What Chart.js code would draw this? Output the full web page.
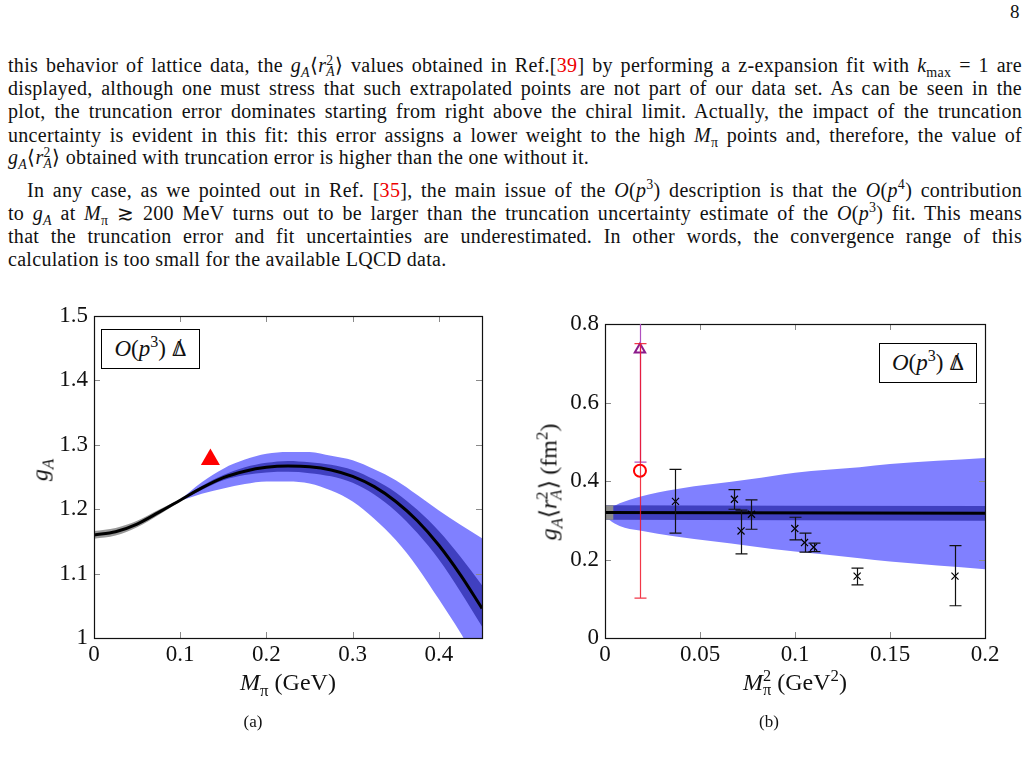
<!DOCTYPE html>
<html>
<head>
<meta charset="utf-8">
<script src="https://cdn.jsdelivr.net/npm/chart.js@4.4.1/dist/chart.umd.min.js"></script>
<style>
  body { margin: 0; background: #fff; }
  #page { position: relative; width: 1030px; height: 761px; overflow: hidden; font-family: "Liberation Serif", serif; color: #111; }
  .ln { position: absolute; left: 8px; width: 1014px; font-size: 20px; letter-spacing: 0.3px; line-height: 23px; text-align: justify; text-align-last: justify; white-space: normal; }
  .ln.last { text-align-last: left; }
  sub, sup { font-size: 0.7em; line-height: 0; }
  .ss { display: inline-block; vertical-align: -0.32em; font-size: 0.68em; line-height: 0.85; text-align: left; }
  .ss span { display: block; }
  .ref { color: #e00; }
  .abs { position: absolute; white-space: nowrap; }
  .lbl { font-size: 24px; }
  .rot { transform: translate(-50%, -50%) rotate(-90deg); }
  .box { position: absolute; border: 1px solid #000; background: #fff; font-size: 23px; text-align: center; line-height: 37px; z-index: 2; }
  .nd { position: relative; display: inline-block; }
  .nd span { position: absolute; left: 0.12em; top: -0.06em; font-size: 1.05em; }
  canvas { position: absolute; }
</style>
</head>
<body>
<div id="page">
  <div class="abs" style="left:1010px; top:1px; font-size:19px;">8</div>

  <div class="ln" style="top:54px;">this behavior of lattice data, the <i>g</i><sub><i>A</i></sub>⟨<i>r</i><span class="ss"><span>2</span><span><i>A</i></span></span>⟩ values obtained in Ref.[<span class="ref">39</span>] by performing a z-expansion fit with <i>k</i><sub>max</sub> = 1 are</div>
  <div class="ln" style="top:77px;">displayed, although one must stress that such extrapolated points are not part of our data set. As can be seen in the</div>
  <div class="ln" style="top:100px;">plot, the truncation error dominates starting from right above the chiral limit. Actually, the impact of the truncation</div>
  <div class="ln" style="top:124px;">uncertainty is evident in this fit: this error assigns a lower weight to the high <i>M</i><sub>π</sub> points and, therefore, the value of</div>
  <div class="ln last" style="top:146px;"><i>g</i><sub><i>A</i></sub>⟨<i>r</i><span class="ss"><span>2</span><span><i>A</i></span></span>⟩ obtained with truncation error is higher than the one without it.</div>

  <div class="ln" style="top:179px; left:27px; width:995px;">In any case, as we pointed out in Ref. [<span class="ref">35</span>], the main issue of the <i>O</i>(<i>p</i><sup>3</sup>) description is that the <i>O</i>(<i>p</i><sup>4</sup>) contribution</div>
  <div class="ln" style="top:202px;">to <i>g</i><sub><i>A</i></sub> at <i>M</i><sub>π</sub> ≳ 200 MeV turns out to be larger than the truncation uncertainty estimate of the <i>O</i>(<i>p</i><sup>3</sup>) fit. This means</div>
  <div class="ln" style="top:225px;">that the truncation error and fit uncertainties are underestimated. In other words, the convergence range of this</div>
  <div class="ln last" style="top:248px;">calculation is too small for the available LQCD data.</div>

  <canvas id="chartA" width="500" height="380" style="left:0px; top:296px;"></canvas>
  <canvas id="chartB" width="500" height="380" style="left:520px; top:296px;"></canvas>

  <div class="box" style="left:101px; top:329px; width:97px; height:38px;"><i>O</i>(<i>p</i><sup>3</sup>) <span class="nd">Δ<span>/</span></span></div>
  <div class="box" style="left:879px; top:343px; width:96px; height:38px;"><i>O</i>(<i>p</i><sup>3</sup>) <span class="nd">Δ<span>/</span></span></div>

  <div class="abs lbl rot" style="left:40px; top:470px;"><i>g</i><sub><i>A</i></sub></div>
  <div class="abs lbl" style="left:288px; top:669px; transform:translateX(-50%);"><i>M</i><sub>π</sub> (GeV)</div>
  <div class="abs lbl rot" style="left:549px; top:482px;"><i>g</i><sub><i>A</i></sub>⟨<i>r</i><span class="ss"><span>2</span><span><i>A</i></span></span>⟩ (fm<sup>2</sup>)</div>
  <div class="abs lbl" style="left:795px; top:669px; transform:translateX(-50%);"><i>M</i><span class="ss"><span>2</span><span>π</span></span> (GeV<sup>2</sup>)</div>

  <div class="abs" style="left:253px; top:712px; font-size:17px; transform:translateX(-50%);">(a)</div>
  <div class="abs" style="left:769px; top:712px; font-size:17px; transform:translateX(-50%);">(b)</div>
</div>

<script>
// ---- panel (a): g_A vs M_pi ----
const mpiA = [0, 0.025, 0.05, 0.075, 0.1, 0.125, 0.15, 0.175, 0.2, 0.225, 0.25, 0.275, 0.3, 0.325, 0.35, 0.375, 0.4, 0.425, 0.45];
const gaFit = [1.160, 1.165, 1.177, 1.195, 1.214, 1.233, 1.249, 1.259, 1.265, 1.267, 1.266, 1.261, 1.251, 1.235, 1.212, 1.182, 1.144, 1.098, 1.046];

// extrapolation region (grey)
const grayAX = [0, 0.025, 0.05, 0.075, 0.1];
const grayAHi = [1.166, 1.171, 1.182, 1.199, 1.216];
const grayALo = [1.154, 1.159, 1.172, 1.191, 1.212];

// error bands (fit = dark, fit + truncation = light)
const bandAX = [0.1, 0.125, 0.15, 0.175, 0.2, 0.225, 0.25, 0.275, 0.3, 0.325, 0.35, 0.375, 0.4, 0.425, 0.45];
const innerAHi = [1.2145, 1.236, 1.253, 1.265, 1.272, 1.275, 1.273, 1.269, 1.261, 1.246, 1.226, 1.199, 1.166, 1.126, 1.082];
const innerALo = [1.2135, 1.230, 1.245, 1.253, 1.257, 1.258, 1.256, 1.251, 1.241, 1.223, 1.197, 1.163, 1.122, 1.072, 1.018];
const outerAHi = [1.215, 1.242, 1.263, 1.277, 1.286, 1.289, 1.289, 1.283, 1.276, 1.262, 1.245, 1.222, 1.198, 1.176, 1.155];
const outerALo = [1.213, 1.224, 1.232, 1.239, 1.243, 1.243, 1.240, 1.229, 1.212, 1.185, 1.152, 1.110, 1.060, 1.008, 0.950];

// physical point
const physMpi = [0.135];
const physGA = [1.277];

const xTicksA = [0, 0.1, 0.2, 0.3, 0.4];
const yTicksA = [1, 1.1, 1.2, 1.3, 1.4, 1.5];

// ---- panel (b): g_A <r_A^2> vs M_pi^2 ----
const m2Lat = [0.0371, 0.0681, 0.0716, 0.0771, 0.0999, 0.105, 0.1098, 0.1327, 0.1842];
const rLat = [0.348, 0.3535, 0.2728, 0.3153, 0.2788, 0.2432, 0.2314, 0.1577, 0.1577];
const rLatLo = [0.267, 0.328, 0.2144, 0.2771, 0.250, 0.2187, 0.2202, 0.1356, 0.0822];
const rLatHi = [0.4298, 0.378, 0.326, 0.3517, 0.3077, 0.267, 0.2415, 0.178, 0.2355];

// z-expansion values of Ref.[39]
const m2Phys = [0.0184];
const rZexp = [0.426];
const rZexpLo = [0.1017];
const rZexpHi = [0.750];
const rZexpT = [0.735];
const rZexpTLo = [0.448];
const rZexpTHi = [1.02];

const lineBX = [0, 0.2];
const lineBY = [0.3195, 0.318];
const darkBHi = [0.338, 0.336];
const darkBLo = [0.301, 0.299];
const grayBX = [0, 0.0045];
const grayBHi = [0.338, 0.338];
const grayBLo = [0.301, 0.301];

const lightBX = [0, 0.0005, 0.0024, 0.0077, 0.0183, 0.0372, 0.0762, 0.1, 0.134, 0.15, 0.2];
const lightBHi = [0.3195, 0.326, 0.3306, 0.343, 0.360, 0.379, 0.4043, 0.421, 0.4348, 0.443, 0.4585];
const lightBLo = [0.3195, 0.311, 0.3008, 0.2856, 0.2736, 0.2584, 0.2347, 0.2202, 0.2034, 0.195, 0.1754];

const xTicksB = [0, 0.05, 0.1, 0.15, 0.2];
const yTicksB = [0, 0.2, 0.4, 0.6, 0.8];

const LIGHT = "#8080ff";
const DARK = "#4040c0";
const GREY = "#999999";

const pts = (xs, ys) => xs.map((x, i) => ({ x: x, y: ys[i] }));

function band(xs, ys, color, fillNext) {
  return {
    data: pts(xs, ys),
    borderWidth: 0,
    pointRadius: 0,
    backgroundColor: color,
    fill: fillNext ? "+1" : false,
    cubicInterpolationMode: "monotone",
  };
}

// pgfplots-like frame with inner tick marks on all four sides
const frameTicks = {
  id: "frameTicks",
  afterDatasetsDraw(chart) {
    const { ctx, chartArea: a, scales } = chart;
    ctx.save();
    ctx.strokeStyle = "#8a8a8a";
    ctx.lineWidth = 1;
    ctx.beginPath();
    scales.x.ticks.forEach((t) => {
      const px = Math.round(scales.x.getPixelForValue(t.value)) + 0.5;
      ctx.moveTo(px, a.bottom); ctx.lineTo(px, a.bottom - 6);
      ctx.moveTo(px, a.top); ctx.lineTo(px, a.top + 6);
    });
    scales.y.ticks.forEach((t) => {
      const py = Math.round(scales.y.getPixelForValue(t.value)) + 0.5;
      ctx.moveTo(a.left, py); ctx.lineTo(a.left + 6, py);
      ctx.moveTo(a.right, py); ctx.lineTo(a.right - 6, py);
    });
    ctx.stroke();
    ctx.strokeStyle = "#111";
    ctx.lineWidth = 1.2;
    ctx.strokeRect(Math.round(a.left) + 0.5, Math.round(a.top) + 0.5, Math.round(a.width), Math.round(a.height));
    ctx.restore();
  },
};

// vertical error bars with caps, read from errLo / errHi on the dataset
const errorBars = {
  id: "errorBars",
  afterDatasetsDraw(chart) {
    const { ctx, chartArea: a, scales } = chart;
    ctx.save();
    ctx.beginPath();
    ctx.rect(a.left, a.top, a.width, a.height);
    ctx.clip();
    chart.data.datasets.forEach((ds) => {
      if (!ds.errLo) return;
      ctx.strokeStyle = ds.errColor;
      ctx.lineWidth = 1.2;
      ds.data.forEach((p, i) => {
        const px = Math.round(scales.x.getPixelForValue(p.x)) + 0.5;
        const lo = scales.y.getPixelForValue(ds.errLo[i]);
        const hi = scales.y.getPixelForValue(ds.errHi[i]);
        ctx.beginPath();
        ctx.moveTo(px, lo); ctx.lineTo(px, hi);
        ctx.moveTo(px - 6, lo); ctx.lineTo(px + 6, lo);
        ctx.moveTo(px - 6, hi); ctx.lineTo(px + 6, hi);
        ctx.stroke();
      });
    });
    ctx.restore();
  },
};

function axis(ticks, min, max, size, pad, horizontal) {
  return {
    type: "linear",
    min: min,
    max: max,
    grid: { display: false, drawTicks: false },
    border: { display: false },
    afterBuildTicks: (s) => { s.ticks = ticks.map((v) => ({ value: v })); },
    afterFit: (s) => { if (horizontal) s.height = size; else s.width = size; },
    ticks: {
      padding: pad,
      color: "#111",
      maxRotation: 0,
      autoSkip: false,
      font: { family: "Liberation Serif", size: 23 },
      callback: (v) => String(v),
    },
  };
}

const baseOptions = {
  responsive: false,
  animation: false,
  plugins: { legend: { display: false }, tooltip: { enabled: false } },
};

new Chart(document.getElementById("chartA"), {
  type: "line",
  data: {
    datasets: [
      { data: pts(mpiA, gaFit), borderColor: "#000", borderWidth: 3, pointRadius: 0, fill: false, cubicInterpolationMode: "monotone" },
      { data: pts(physMpi, physGA), showLine: false, pointStyle: "triangle", pointRadius: 11, backgroundColor: "#ff0000", borderColor: "#ff0000", borderWidth: 0 },
      band(grayAX, grayAHi, GREY, true),
      band(grayAX, grayALo, GREY, false),
      band(bandAX, innerAHi, DARK, true),
      band(bandAX, innerALo, DARK, false),
      band(bandAX, outerAHi, LIGHT, true),
      band(bandAX, outerALo, LIGHT, false),
    ],
  },
  options: {
    ...baseOptions,
    layout: { padding: { top: 20, right: 18, left: 0, bottom: 0 } },
    scales: {
      x: axis(xTicksA, 0, 0.45, 38, 3, true),
      y: axis(yTicksA, 1, 1.5, 94, 6, false),
    },
  },
  plugins: [frameTicks],
});

new Chart(document.getElementById("chartB"), {
  type: "line",
  data: {
    datasets: [
      { data: pts(m2Lat, rLat), showLine: false, pointStyle: "crossRot", pointRadius: 5, borderColor: "#000", borderWidth: 1.2, errLo: rLatLo, errHi: rLatHi, errColor: "#111" },
      { data: pts(m2Phys, rZexpT), showLine: false, pointStyle: "triangle", pointRadius: 6, borderColor: "#8b1a8b", backgroundColor: "rgba(0,0,0,0)", borderWidth: 2, errLo: rZexpTLo, errHi: rZexpTHi, errColor: "#b050c0" },
      { data: pts(m2Phys, rZexp), showLine: false, pointStyle: "circle", pointRadius: 6, borderColor: "#ff0000", backgroundColor: "rgba(0,0,0,0)", borderWidth: 2, errLo: rZexpLo, errHi: rZexpHi, errColor: "rgba(240,20,40,0.85)" },
      { data: pts(lineBX, lineBY), borderColor: "#000", borderWidth: 3, pointRadius: 0, fill: false },
      band(grayBX, grayBHi, "#8c8c8c", true),
      band(grayBX, grayBLo, "#8c8c8c", false),
      band(lineBX, darkBHi, DARK, true),
      band(lineBX, darkBLo, DARK, false),
      band(lightBX, lightBHi, LIGHT, true),
      band(lightBX, lightBLo, LIGHT, false),
    ],
  },
  options: {
    ...baseOptions,
    layout: { padding: { top: 28, right: 35, left: 0, bottom: 0 } },
    scales: {
      x: axis(xTicksB, 0, 0.2, 38, 3, true),
      y: axis(yTicksB, 0, 0.8, 85, 6, false),
    },
  },
  plugins: [frameTicks, errorBars],
});
</script>
</body>
</html>
